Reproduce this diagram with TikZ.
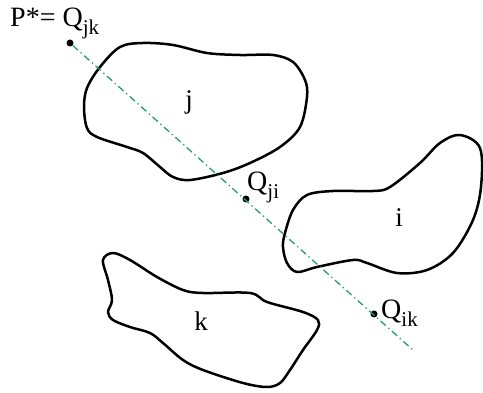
\documentclass[tikz,border=0pt]{standalone}
\usepackage{fontspec}
\setmainfont{Liberation Serif}
\definecolor{linegreen}{RGB}{35,160,100}
\newcommand{\sbx}[1]{\raisebox{-8pt}{\fontsize{21}{21}\selectfont #1}}
\begin{document}
\begin{tikzpicture}[x=1pt,y=-1pt,
  blob/.style={line width=2.5pt, line join=round},
  dot/.style={circle, fill=black, inner sep=0pt, minimum size=7pt},
  lbl/.style={inner sep=0pt, font=\fontsize{27}{27}\selectfont},
  plbl/.style={inner sep=0pt, anchor=base west, font=\fontsize{28}{28}\selectfont},
  axis/.style={draw=linegreen, line width=1.3pt, dash pattern=on 7pt off 3.5pt on 1.3pt off 3.5pt}]
\useasboundingbox (0,0) rectangle (483,393);
% region j
\draw[blob] plot[smooth cycle, tension=0.55] coordinates {
 (143,43) (173,45) (207,53) (240,55) (273,55) (293,62) (305,80) (307,97)
 (300,127) (280,147) (250,163) (223,173) (190,180) (173,177) (160,167)
 (143,153) (127,147) (97,137) (87,128) (84,107) (87,88) (100,67) (120,47)};
% region i
\draw[blob] plot[smooth cycle, tension=0.55] coordinates {
 (460,135) (480,148) (481,187) (473,220) (453,253) (427,270) (397,273)
 (367,263) (353,260) (317,267) (297,272) (287,263) (283,247) (285,233)
 (293,210) (307,195) (333,191) (373,191) (390,187) (420,163) (440,143)};
% region k
\draw[blob] plot[smooth cycle, tension=0.55] coordinates {
 (113,253) (130,260) (157,277) (183,290) (203,293) (250,293) (267,302)
 (303,312) (318,320) (317,330) (303,350) (290,370) (280,383) (267,387)
 (243,383) (203,370) (183,360) (163,343) (150,333) (130,327) (113,320)
 (108,312) (112,300) (108,280) (103,260)};
% labels of regions
\node[lbl] (lj) at (189,102) {j};
\node[lbl] (li) at (399,218) {i};
\node[lbl] (lk) at (201,321) {k};
% points and axis
\node[dot] (P) at (70,43) {};
\node[dot] (Qji) at (246,199) {};
\node[dot] (Qik) at (374,314) {};
\coordinate (E) at (413,350);
\draw[axis] (P) -- (E);
% point labels
\node[plbl] (tP) at (10,27) {P*= Q\sbx{jk}};
\node[plbl] (tji) at (247,191) {Q\sbx{ji}};
\node[plbl] (tik) at (381,319) {Q\sbx{ik}};
\end{tikzpicture}
\end{document}
